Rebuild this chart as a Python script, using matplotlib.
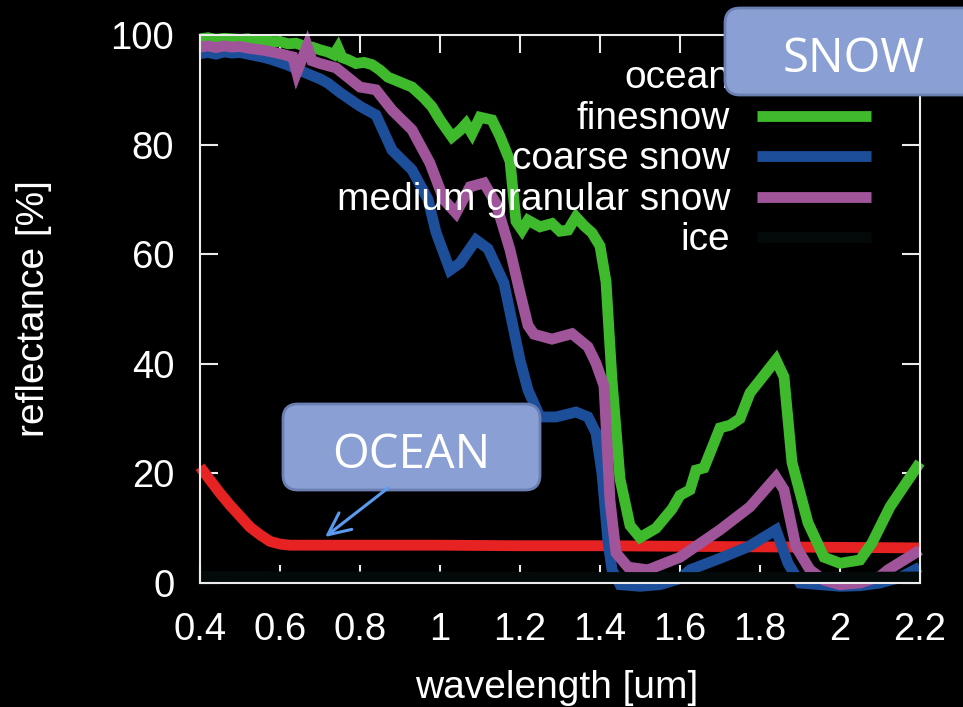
import matplotlib
matplotlib.use("Agg")
import matplotlib.pyplot as plt
from matplotlib.patches import FancyBboxPatch, FancyArrowPatch
from matplotlib.lines import Line2D

# ---- spectral reflectance data (wavelength in um, reflectance in %) ----
ocean_wl = [0.40, 0.425, 0.45, 0.475, 0.50, 0.525, 0.55, 0.575, 0.60, 0.625, 0.70,
            0.80, 1.00, 1.20, 1.40, 1.60, 1.80, 2.00, 2.20]
ocean_refl = [21.2, 18.8, 16.4, 14.2, 12.2, 10.2, 8.8, 7.6, 7.1, 6.9, 6.9,
              6.9, 6.9, 6.8, 6.8, 6.7, 6.6, 6.5, 6.4]

finesnow_wl = [0.40, 0.42, 0.44, 0.46, 0.48, 0.50, 0.52, 0.54, 0.56, 0.58, 0.60, 0.62,
               0.64, 0.66, 0.68, 0.70, 0.72, 0.735, 0.745, 0.755, 0.77, 0.79, 0.81, 0.83,
               0.85, 0.87, 0.90, 0.93, 0.96, 0.98, 1.00, 1.03, 1.05, 1.065, 1.08, 1.10,
               1.13, 1.15, 1.175, 1.19, 1.205, 1.22, 1.25, 1.28, 1.30, 1.32, 1.34, 1.36,
               1.38, 1.40, 1.415, 1.43, 1.45, 1.475, 1.50, 1.54, 1.58, 1.60, 1.625, 1.64,
               1.66, 1.70, 1.725, 1.75, 1.775, 1.80, 1.84, 1.86, 1.88, 1.92, 1.96, 2.00,
               2.05, 2.08, 2.125, 2.20]
finesnow_refl = [99.3, 99.5, 99.2, 99.4, 99.3, 99.2, 99.3, 99.0, 99.1, 98.8, 98.8, 98.4,
                 98.5, 98.0, 97.8, 97.3, 96.9, 96.4, 97.6, 95.9, 95.5, 94.8, 95.0, 94.6,
                 93.6, 92.3, 91.4, 90.5, 88.5, 86.9, 84.5, 81.4, 82.6, 83.8, 82.0, 85.0,
                 84.5, 81.5, 77.0, 66.0, 64.4, 66.2, 65.0, 65.6, 64.2, 64.4, 66.8, 65.2,
                 63.9, 61.5, 55.0, 37.0, 19.0, 10.5, 8.3, 10.0, 13.5, 16.0, 17.0, 20.6,
                 21.0, 28.3, 28.8, 30.0, 34.7, 37.0, 40.7, 37.6, 22.0, 11.0, 4.7, 3.6,
                 4.2, 7.3, 13.9, 22.0]

coarse_wl = [0.40, 0.42, 0.44, 0.46, 0.48, 0.50, 0.52, 0.54, 0.56, 0.58, 0.60, 0.62,
             0.65, 0.68, 0.70, 0.72, 0.75, 0.78, 0.80, 0.84, 0.88, 0.93, 0.97, 0.99,
             1.025, 1.05, 1.09, 1.12, 1.16, 1.20, 1.22, 1.25, 1.29, 1.34, 1.37, 1.39,
             1.405, 1.42, 1.43, 1.45, 1.50, 1.55, 1.60, 1.625, 1.70, 1.77, 1.84, 1.87,
             1.90, 1.95, 2.00, 2.05, 2.10, 2.15, 2.20]
coarse_refl = [96.6, 96.8, 96.5, 96.9, 96.7, 96.8, 96.5, 96.2, 95.9, 95.5, 95.0, 94.5,
               93.5, 92.6, 92.0, 91.2, 89.5, 88.0, 87.0, 85.4, 79.0, 75.4, 70.0, 64.0,
               57.1, 58.4, 62.6, 61.0, 54.7, 40.7, 35.2, 30.3, 30.3, 31.2, 30.3, 27.4,
               20.0, 7.5, 2.4, -0.3, -0.6, -0.3, 0.8, 2.4, 4.5, 6.6, 9.7, 3.6,
               0.0, -0.3, -0.6, -0.5, 0.0, 1.0, 2.9]

medium_wl = [0.40, 0.42, 0.44, 0.46, 0.48, 0.50, 0.52, 0.54, 0.56, 0.58, 0.60, 0.62,
             0.632, 0.642, 0.668, 0.680, 0.70, 0.74, 0.80, 0.84, 0.88, 0.93, 0.975,
             1.01, 1.04, 1.075, 1.11, 1.14, 1.175, 1.20, 1.22, 1.235, 1.28, 1.33, 1.37,
             1.39, 1.41, 1.425, 1.44, 1.47, 1.52, 1.60, 1.70, 1.775, 1.84, 1.86, 1.89,
             1.925, 1.96, 2.00, 2.05, 2.10, 2.12, 2.20]
medium_refl = [97.8, 98.0, 97.7, 98.0, 97.8, 97.9, 97.6, 97.4, 97.2, 96.9, 96.6, 96.2,
               96.0, 93.2, 98.0, 95.3, 94.8, 94.0, 90.5, 90.0, 86.3, 82.7, 76.6,
               69.9, 67.5, 72.3, 73.0, 69.3, 60.8, 53.0, 47.0, 45.4, 44.5, 45.5, 43.1,
               40.1, 36.0, 15.0, 5.5, 2.9, 2.4, 4.7, 9.7, 13.9, 19.3, 17.0, 6.6,
               2.4, 0.5, -0.3, 0.0, 1.2, 2.4, 6.0]

ice_wl = [0.40, 0.70, 1.00, 1.30, 1.60, 1.90, 2.20]
ice_refl = [1.2, 1.1, 1.1, 1.0, 1.0, 1.0, 1.1]

series_labels = ["ocean", "finesnow", "coarse snow", "medium granular snow", "ice"]
series_colors = ["#e62222", "#3fba2c", "#1c4e9a", "#a0549a", "#040a0a"]

x_ticks = [0.4, 0.6, 0.8, 1.0, 1.2, 1.4, 1.6, 1.8, 2.0, 2.2]
x_tick_labels = ["0.4", "0.6", "0.8", "1", "1.2", "1.4", "1.6", "1.8", "2", "2.2"]
y_ticks = [0, 20, 40, 60, 80, 100]

# ---- figure ----
W, H = 963, 707
fig = plt.figure(figsize=(W / 100, H / 100), dpi=100, facecolor="black")
ax_l, ax_r, ax_t, ax_b = 200, 920, 35, 583
ax = fig.add_axes([ax_l / W, (H - ax_b) / H, (ax_r - ax_l) / W, (ax_b - ax_t) / H])
ax.set_facecolor("black")

font = "Liberation Sans"
fg = "#ececec"

data = [(ocean_wl, ocean_refl), (finesnow_wl, finesnow_refl), (coarse_wl, coarse_refl),
        (medium_wl, medium_refl), (ice_wl, ice_refl)]
lw = 7.8
for i, ((wl, rf), col) in enumerate(zip(data, series_colors)):
    ax.plot(wl, rf, color=col, lw=lw, solid_joinstyle="miter", solid_capstyle="butt",
            clip_on=False, zorder=2.6 + 0.01 * i)

ax.set_xlim(0.4, 2.2)
ax.set_ylim(0, 100)
ax.set_xticks(x_ticks)
ax.set_xticklabels(x_tick_labels)
ax.set_yticks(y_ticks)
ax.tick_params(axis="both", direction="in", length=13, width=1.5, color=fg,
               top=True, right=True, labelcolor="white", labelsize=27.5)
ax.tick_params(axis="x", pad=21)
ax.tick_params(axis="y", pad=18.5)
for lab in ax.get_xticklabels() + ax.get_yticklabels():
    lab.set_fontfamily(font)
for sp in ax.spines.values():
    sp.set_color(fg)
    sp.set_linewidth(1.5)
    sp.set_zorder(3)

# axis titles
fig.text(34 / W, 1 - 309 / H, "reflectance [%]", rotation=90, ha="center", va="center",
         color="white", fontsize=28, family=font)
fig.text(557 / W, 1 - 698 / H, "wavelength [um]", ha="center", va="baseline",
         color="white", fontsize=28, family=font)

# key: labels right-aligned, sample lines to their right
def ax_frac(px, py):
    return (px - ax_l) / (ax_r - ax_l), (ax_b - py) / (ax_b - ax_t)

row0, pitch = 75, 40.6
for i, (lab, col) in enumerate(zip(series_labels, series_colors)):
    yrow = row0 + i * pitch
    tx, ty = ax_frac(730, yrow + 13)
    ax.text(tx, ty, lab, transform=ax.transAxes, ha="right", va="baseline",
            color="white", fontsize=28, family=font, zorder=4)
    x0, y0 = ax_frac(757, yrow)
    x1, _ = ax_frac(871, yrow)
    ax.add_line(Line2D([x0, x1], [y0, y0], transform=ax.transAxes, color=col, lw=lw,
                       solid_capstyle="butt", clip_on=False, zorder=4))

# callout boxes (positioned in inches from the lower-left corner)
box_fc = "#8aa0d4"
box_ec = "#6b7fb2"
tr = fig.dpi_scale_trans

def callout(x0, y0, x1, y1, text, tx, ty):
    box = FancyBboxPatch((x0 / 100, (H - y1) / 100), (x1 - x0) / 100, (y1 - y0) / 100,
                         boxstyle="round,pad=0,rounding_size=0.15", transform=tr,
                         facecolor=box_fc, edgecolor=box_ec, lw=2.0, zorder=10)
    fig.add_artist(box)
    fig.text(tx / W, 1 - ty / H, text, ha="center", va="baseline", color="white",
             fontsize=34, family="Open Sans", zorder=11)

callout(725, 8, 990, 95, "SNOW", 854, 72)
callout(283, 404, 540, 490, "OCEAN", 411, 468)

arrow = FancyArrowPatch((388 / 100, (H - 488) / 100), (325 / 100, (H - 537) / 100),
                        transform=tr, arrowstyle="->,head_length=16,head_width=7.5",
                        mutation_scale=1, color="#5a9bf0", lw=2.2,
                        shrinkA=0, shrinkB=0, zorder=10)
fig.add_artist(arrow)

fig.savefig("out.png", dpi=100, facecolor="black")
